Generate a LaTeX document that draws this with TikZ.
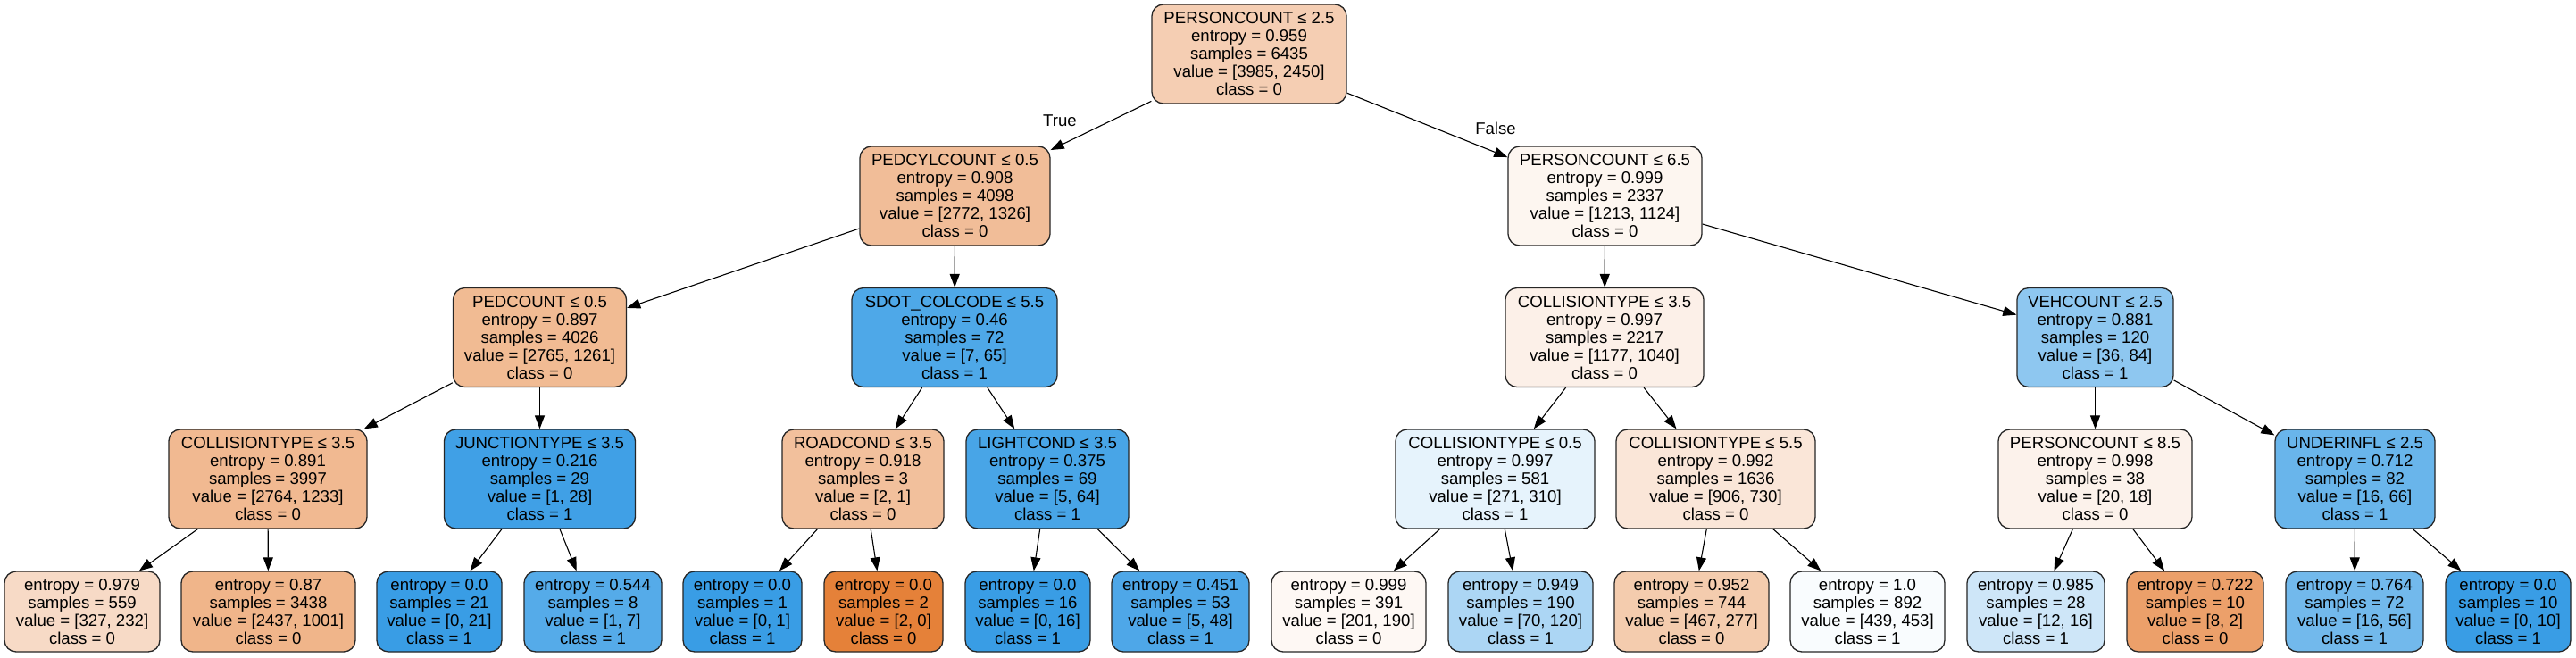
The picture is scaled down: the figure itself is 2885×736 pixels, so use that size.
\documentclass[tikz,border=0pt]{standalone}
\usepackage{fontspec}
\setmainfont{Liberation Sans}
\usetikzlibrary{arrows.meta}
\definecolor{n0}{RGB}{245,206,179}
\definecolor{n1}{RGB}{241,189,152}
\definecolor{n2}{RGB}{253,246,240}
\definecolor{n3}{RGB}{241,187,147}
\definecolor{n4}{RGB}{78,168,232}
\definecolor{n5}{RGB}{252,240,232}
\definecolor{n6}{RGB}{142,199,240}
\definecolor{n7}{RGB}{241,185,145}
\definecolor{n8}{RGB}{64,160,230}
\definecolor{n9}{RGB}{242,192,156}
\definecolor{n10}{RGB}{72,165,231}
\definecolor{n11}{RGB}{230,243,252}
\definecolor{n12}{RGB}{250,230,216}
\definecolor{n13}{RGB}{252,242,235}
\definecolor{n14}{RGB}{105,181,235}
\definecolor{l1}{RGB}{247,218,198}
\definecolor{l2}{RGB}{240,181,138}
\definecolor{lb}{RGB}{57,157,229}
\definecolor{lo}{RGB}{229,129,57}
\definecolor{l4}{RGB}{85,171,233}
\definecolor{l8}{RGB}{78,167,232}
\definecolor{l9}{RGB}{254,248,244}
\definecolor{l10}{RGB}{172,214,244}
\definecolor{l11}{RGB}{244,204,174}
\definecolor{l12}{RGB}{249,252,254}
\definecolor{l13}{RGB}{206,230,248}
\definecolor{l14}{RGB}{236,160,106}
\definecolor{l15}{RGB}{114,185,236}
\tikzset{
  tn/.style={draw=black!85, line width=1.3pt, rounded corners=13pt, align=center,
    inner sep=0pt, font=\fontsize{18.6}{20}\selectfont, minimum height=111},
  leaf/.style={tn, minimum height=90},
  edge/.style={-{Triangle[length=15pt,width=11pt]}, line width=1.1pt},
  elab/.style={font=\fontsize{18.6}{20}\selectfont, inner sep=0pt}
}
\begin{document}
\begin{tikzpicture}[x=1pt,y=-1pt]
\useasboundingbox[fill=white] (0,0) rectangle (2885,736);
% rank 0
\node[tn, fill=n0, minimum width=218] (root) at (1399,60.5) {PERSONCOUNT ≤ 2.5\\entropy = 0.959\\samples = 6435\\value = [3985, 2450]\\class = 0};
% rank 1
\node[tn, fill=n1, minimum width=213] (pedcyl) at (1069.5,219.5) {PEDCYLCOUNT ≤ 0.5\\entropy = 0.908\\samples = 4098\\value = [2772, 1326]\\class = 0};
\node[tn, fill=n2, minimum width=217] (pers65) at (1797.5,219.5) {PERSONCOUNT ≤ 6.5\\entropy = 0.999\\samples = 2337\\value = [1213, 1124]\\class = 0};
% rank 2
\node[tn, fill=n3, minimum width=194] (ped) at (604.5,378) {PEDCOUNT ≤ 0.5\\entropy = 0.897\\samples = 4026\\value = [2765, 1261]\\class = 0};
\node[tn, fill=n4, minimum width=230] (sdot) at (1069,378) {SDOT\_COLCODE ≤ 5.5\\entropy = 0.46\\samples = 72\\value = [7, 65]\\class = 1};
\node[tn, fill=n5, minimum width=222] (coll35r) at (1797,378) {COLLISIONTYPE ≤ 3.5\\entropy = 0.997\\samples = 2217\\value = [1177, 1040]\\class = 0};
\node[tn, fill=n6, minimum width=175] (veh) at (2346.5,378) {VEHCOUNT ≤ 2.5\\entropy = 0.881\\samples = 120\\value = [36, 84]\\class = 1};
% rank 3
\node[tn, fill=n7, minimum width=222] (coll35l) at (300,536.5) {COLLISIONTYPE ≤ 3.5\\entropy = 0.891\\samples = 3997\\value = [2764, 1233]\\class = 0};
\node[tn, fill=n8, minimum width=214] (junc) at (604.5,536.5) {JUNCTIONTYPE ≤ 3.5\\entropy = 0.216\\samples = 29\\value = [1, 28]\\class = 1};
\node[tn, fill=n9, minimum width=181] (road) at (966.5,536.5) {ROADCOND ≤ 3.5\\entropy = 0.918\\samples = 3\\value = [2, 1]\\class = 0};
\node[tn, fill=n10, minimum width=182] (light) at (1173,536.5) {LIGHTCOND ≤ 3.5\\entropy = 0.375\\samples = 69\\value = [5, 64]\\class = 1};
\node[tn, fill=n11, minimum width=223] (coll05) at (1674.5,536.5) {COLLISIONTYPE ≤ 0.5\\entropy = 0.997\\samples = 581\\value = [271, 310]\\class = 1};
\node[tn, fill=n12, minimum width=223] (coll55) at (1921.5,536.5) {COLLISIONTYPE ≤ 5.5\\entropy = 0.992\\samples = 1636\\value = [906, 730]\\class = 0};
\node[tn, fill=n13, minimum width=217] (pers85) at (2346.5,536.5) {PERSONCOUNT ≤ 8.5\\entropy = 0.998\\samples = 38\\value = [20, 18]\\class = 0};
\node[tn, fill=n14, minimum width=179] (under) at (2637.5,536.5) {UNDERINFL ≤ 2.5\\entropy = 0.712\\samples = 82\\value = [16, 66]\\class = 1};
% rank 4 (leaves)
\node[leaf, fill=l1, minimum width=174] (a1) at (92,685) {entropy = 0.979\\samples = 559\\value = [327, 232]\\class = 0};
\node[leaf, fill=l2, minimum width=195] (a2) at (300.5,685) {entropy = 0.87\\samples = 3438\\value = [2437, 1001]\\class = 0};
\node[leaf, fill=lb, minimum width=140] (a3) at (492,685) {entropy = 0.0\\samples = 21\\value = [0, 21]\\class = 1};
\node[leaf, fill=l4, minimum width=154] (a4) at (664,685) {entropy = 0.544\\samples = 8\\value = [1, 7]\\class = 1};
\node[leaf, fill=lb, minimum width=133] (a5) at (831.5,685) {entropy = 0.0\\samples = 1\\value = [0, 1]\\class = 1};
\node[leaf, fill=lo, minimum width=133] (a6) at (989.5,685) {entropy = 0.0\\samples = 2\\value = [2, 0]\\class = 0};
\node[leaf, fill=lb, minimum width=140] (a7) at (1151,685) {entropy = 0.0\\samples = 16\\value = [0, 16]\\class = 1};
\node[leaf, fill=l8, minimum width=154] (a8) at (1322,685) {entropy = 0.451\\samples = 53\\value = [5, 48]\\class = 1};
\node[leaf, fill=l9, minimum width=173] (a9) at (1510.5,685) {entropy = 0.999\\samples = 391\\value = [201, 190]\\class = 0};
\node[leaf, fill=l10, minimum width=162] (a10) at (1703,685) {entropy = 0.949\\samples = 190\\value = [70, 120]\\class = 1};
\node[leaf, fill=l11, minimum width=173] (a11) at (1894.5,685) {entropy = 0.952\\samples = 744\\value = [467, 277]\\class = 0};
\node[leaf, fill=l12, minimum width=173] (a12) at (2091.5,685) {entropy = 1.0\\samples = 892\\value = [439, 453]\\class = 1};
\node[leaf, fill=l13, minimum width=154] (a13) at (2280,685) {entropy = 0.985\\samples = 28\\value = [12, 16]\\class = 1};
\node[leaf, fill=l14, minimum width=153] (a14) at (2458.5,685) {entropy = 0.722\\samples = 10\\value = [8, 2]\\class = 0};
\node[leaf, fill=l15, minimum width=154] (a15) at (2637,685) {entropy = 0.764\\samples = 72\\value = [16, 56]\\class = 1};
\node[leaf, fill=lb, minimum width=140] (a16) at (2809,685) {entropy = 0.0\\samples = 10\\value = [0, 10]\\class = 1};
% edges
\draw[edge] (root) -- (pedcyl);
\draw[edge] (root) -- (pers65);
\draw[edge] (pedcyl) -- (ped);
\draw[edge] (pedcyl) -- (sdot);
\draw[edge] (pers65) -- (coll35r);
\draw[edge] (pers65) -- (veh);
\draw[edge] (ped) -- (coll35l);
\draw[edge] (ped) -- (junc);
\draw[edge] (sdot) -- (road);
\draw[edge] (sdot) -- (light);
\draw[edge] (coll35r) -- (coll05);
\draw[edge] (coll35r) -- (coll55);
\draw[edge] (veh) -- (pers85);
\draw[edge] (veh) -- (under);
\draw[edge] (coll35l) -- (a1);
\draw[edge] (coll35l) -- (a2);
\draw[edge] (junc) -- (a3);
\draw[edge] (junc) -- (a4);
\draw[edge] (road) -- (a5);
\draw[edge] (road) -- (a6);
\draw[edge] (light) -- (a7);
\draw[edge] (light) -- (a8);
\draw[edge] (coll05) -- (a9);
\draw[edge] (coll05) -- (a10);
\draw[edge] (coll55) -- (a11);
\draw[edge] (coll55) -- (a12);
\draw[edge] (pers85) -- (a13);
\draw[edge] (pers85) -- (a14);
\draw[edge] (under) -- (a15);
\draw[edge] (under) -- (a16);
% edge labels
\node[elab] (ltrue) at (1187,135) {True};
\node[elab] (lfalse) at (1675,144) {False};
\end{tikzpicture}
\end{document}
